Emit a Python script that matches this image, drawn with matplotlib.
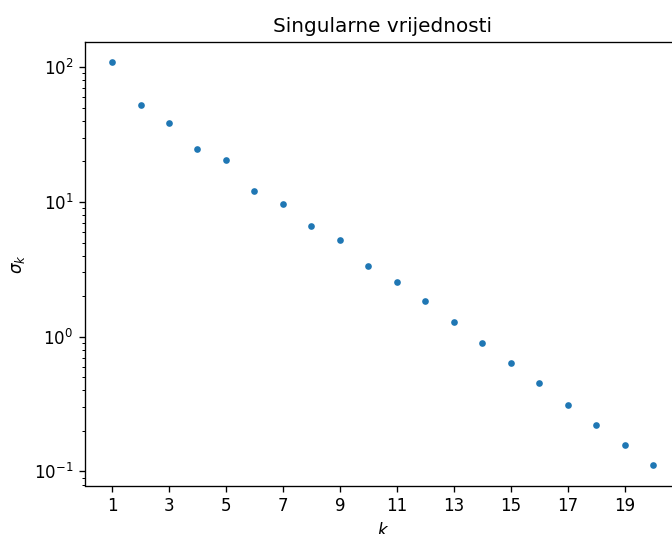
import matplotlib
matplotlib.use("Agg")
import matplotlib.pyplot as plt
import numpy as np

k = list(range(1, 21))
sigma = [109, 52.3, 38.5, 24.7, 20.5, 12.1, 9.7, 6.6, 5.2, 3.36,
         2.55, 1.85, 1.29, 0.90, 0.64, 0.456, 0.313, 0.223, 0.156, 0.111]
xticks = list(range(1, 21, 2))

W, H = 672, 534
dpi = 120
fig = plt.figure(figsize=(W / dpi, H / dpi), dpi=dpi)
ax = fig.add_axes([85 / W, 1 - (42 + 443.5) / H, 595.2 / W, 443.5 / H])
ax.semilogy(k, sigma, '.')
ax.set_xticks(xticks)
ax.set_title('Singularne vrijednosti')
ax.set_xlabel('$k$')
ax.set_ylabel(r'$\sigma_k$')
fig.savefig('out.png', dpi=dpi)
